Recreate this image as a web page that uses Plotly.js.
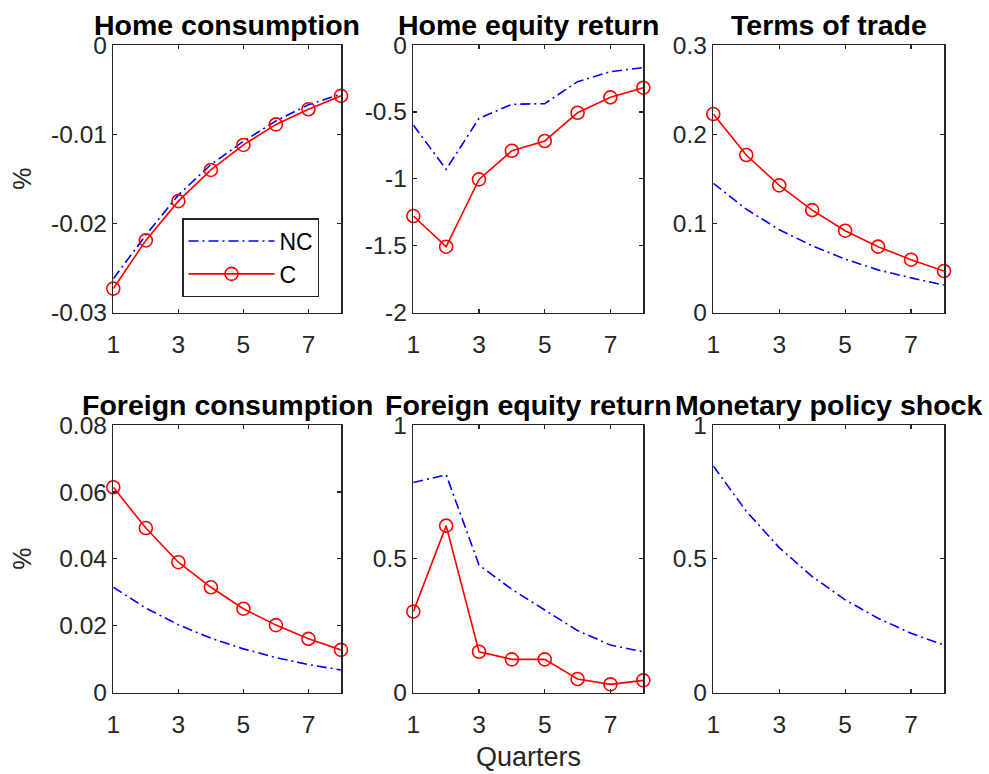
<!DOCTYPE html>
<html><head><meta charset="utf-8">
<script src="https://cdn.plot.ly/plotly-3.0.1.min.js"></script>
<style>html,body{margin:0;padding:0;background:#fff}#chart{width:989px;height:774px}</style>
</head><body><div id="chart"></div>
<script>
// ---- data ----
const quarters = [1, 2, 3, 4, 5, 6, 7, 8];
const xTickVals = [1, 3, 5, 7];
const xTickText = ['1', '3', '5', '7'];

const panelTitles = ['Home consumption', 'Home equity return', 'Terms of trade',
                     'Foreign consumption', 'Foreign equity return', 'Monetary policy shock'];

const homeConsNC = [-0.0262, -0.0213, -0.0168, -0.0134, -0.0108, -0.0085, -0.0067, -0.0055];
const homeConsC  = [-0.0273, -0.0219, -0.0175, -0.0140, -0.0112, -0.0089, -0.0072, -0.0057];

const homeEqNC = [-0.598, -0.929, -0.548, -0.443, -0.438, -0.274, -0.199, -0.169];
const homeEqC  = [-1.278, -1.507, -1.004, -0.790, -0.717, -0.506, -0.391, -0.319];

const totNC = [0.145, 0.116, 0.093, 0.075, 0.060, 0.048, 0.039, 0.031];
const totC  = [0.2226, 0.1767, 0.1427, 0.1150, 0.0919, 0.0740, 0.0594, 0.0467];

const forConsNC = [0.0315, 0.0253, 0.0203, 0.0163, 0.0131, 0.0105, 0.0084, 0.0068];
const forConsC  = [0.0614, 0.0492, 0.0390, 0.0315, 0.0251, 0.0202, 0.0161, 0.0128];

const forEqNC = [0.785, 0.814, 0.477, 0.386, 0.309, 0.232, 0.178, 0.153];
const forEqC  = [0.303, 0.624, 0.153, 0.1245, 0.1245, 0.051, 0.031, 0.046];

const monShockNC = [0.847, 0.678, 0.542, 0.434, 0.347, 0.278, 0.222, 0.178];

const yRanges = [[-0.03, 0], [-2, 0], [0, 0.3], [0, 0.08], [0, 1], [0, 1]];
const yTickVals = [
  [-0.03, -0.02, -0.01, 0],
  [-2, -1.5, -1, -0.5, 0],
  [0, 0.1, 0.2, 0.3],
  [0, 0.02, 0.04, 0.06, 0.08],
  [0, 0.5, 1],
  [0, 0.5, 1]
];
const yTickText = [
  ['-0.03', '-0.02', '-0.01', '0'],
  ['-2', '-1.5', '-1', '-0.5', '0'],
  ['0', '0.1', '0.2', '0.3'],
  ['0', '0.02', '0.04', '0.06', '0.08'],
  ['0', '0.5', '1'],
  ['0', '0.5', '1']
];

const ncSeries = [homeConsNC, homeEqNC, totNC, forConsNC, forEqNC, monShockNC];
const cSeries  = [homeConsC, homeEqC, totC, forConsC, forEqC, null];

// ---- layout geometry ----
const W = 989, H = 774;
const colPx = [[113.3, 341], [413.3, 643.3], [713.3, 944]];
const rowPx = [[45, 312.7], [425, 692.7]];
const FONT = '"Liberation Sans", Arial, Helvetica, sans-serif';
const AX = '#262626';

const traces = [];
const layout = {
  width: W, height: H,
  margin: {l: 0, r: 0, t: 0, b: 0},
  paper_bgcolor: '#fff', plot_bgcolor: '#fff',
  font: {family: FONT, color: AX},
  showlegend: true,
  legend: {
    x: 182.3 / W, y: 1 - 218.3 / H, xanchor: 'left', yanchor: 'top',
    bgcolor: '#fff', bordercolor: AX, borderwidth: 1.2,
    font: {family: FONT, size: 23, color: '#000'},
    itemwidth: 86, tracegroupgap: 0
  },
  annotations: []
};

for (let i = 0; i < 6; i++) {
  const r = Math.floor(i / 3), c = i % 3;
  const sfx = i === 0 ? '' : String(i + 1);
  const xd = [colPx[c][0] / W, colPx[c][1] / W];
  const yd = [1 - rowPx[r][1] / H, 1 - rowPx[r][0] / H];
  layout['xaxis' + sfx] = {
    domain: xd, anchor: 'y' + sfx, range: [1, 8],
    tickmode: 'array', tickvals: xTickVals, ticktext: xTickText,
    ticks: 'inside', ticklen: 4, tickwidth: 1.2, tickcolor: AX,
    showline: true, linecolor: AX, linewidth: 1.5, mirror: 'ticks',
    showgrid: false, zeroline: false, ticklabelstandoff: 9,
    tickfont: {family: FONT, size: 24.5, color: AX}
  };
  layout['yaxis' + sfx] = {
    domain: yd, anchor: 'x' + sfx, range: yRanges[i],
    tickmode: 'array', tickvals: yTickVals[i], ticktext: yTickText[i],
    ticks: 'inside', ticklen: 4, tickwidth: 1.2, tickcolor: AX,
    showline: true, linecolor: AX, linewidth: 1.5, mirror: 'ticks',
    showgrid: false, zeroline: false,
    tickfont: {family: FONT, size: 24.5, color: AX}
  };
  traces.push({
    type: 'scatter', mode: 'lines', x: quarters, y: ncSeries[i],
    xaxis: 'x' + sfx, yaxis: 'y' + sfx, name: 'NC', showlegend: i === 0,
    line: {color: '#0000FF', width: 1.6, dash: '10px,4px,2px,4px'},
    cliponaxis: false
  });
  if (cSeries[i]) {
    traces.push({
      type: 'scatter', mode: 'lines+markers', x: quarters, y: cSeries[i],
      xaxis: 'x' + sfx, yaxis: 'y' + sfx, name: 'C', showlegend: i === 0,
      line: {color: '#FF0000', width: 1.6},
      marker: {symbol: 'circle-open', size: 13, color: '#FF0000', line: {width: 1.6, color: '#FF0000'}},
      cliponaxis: false
    });
  }
  layout.annotations.push({
    text: '<b>' + panelTitles[i] + '</b>', xref: 'paper', yref: 'paper',
    x: (xd[0] + xd[1]) / 2, y: yd[1], xanchor: 'center', yanchor: 'bottom',
    yshift: 2, showarrow: false,
    font: {family: FONT, size: 28.5, color: '#000'}
  });
  if (c === 0) {
    layout.annotations.push({
      text: '%', xref: 'paper', yref: 'paper', x: 22 / W, y: (yd[0] + yd[1]) / 2,
      xanchor: 'center', yanchor: 'middle', textangle: -90, showarrow: false,
      font: {family: FONT, size: 25, color: AX}
    });
  }
}
layout.annotations.push({
  text: 'Quarters', xref: 'paper', yref: 'paper', x: (413.3 + 643.3) / 2 / W, y: 1 - 757 / H,
  xanchor: 'center', yanchor: 'middle', showarrow: false,
  font: {family: FONT, size: 27, color: AX}
});

Plotly.newPlot('chart', traces, layout, {displayModeBar: false, staticPlot: true});
</script>
</body></html>
